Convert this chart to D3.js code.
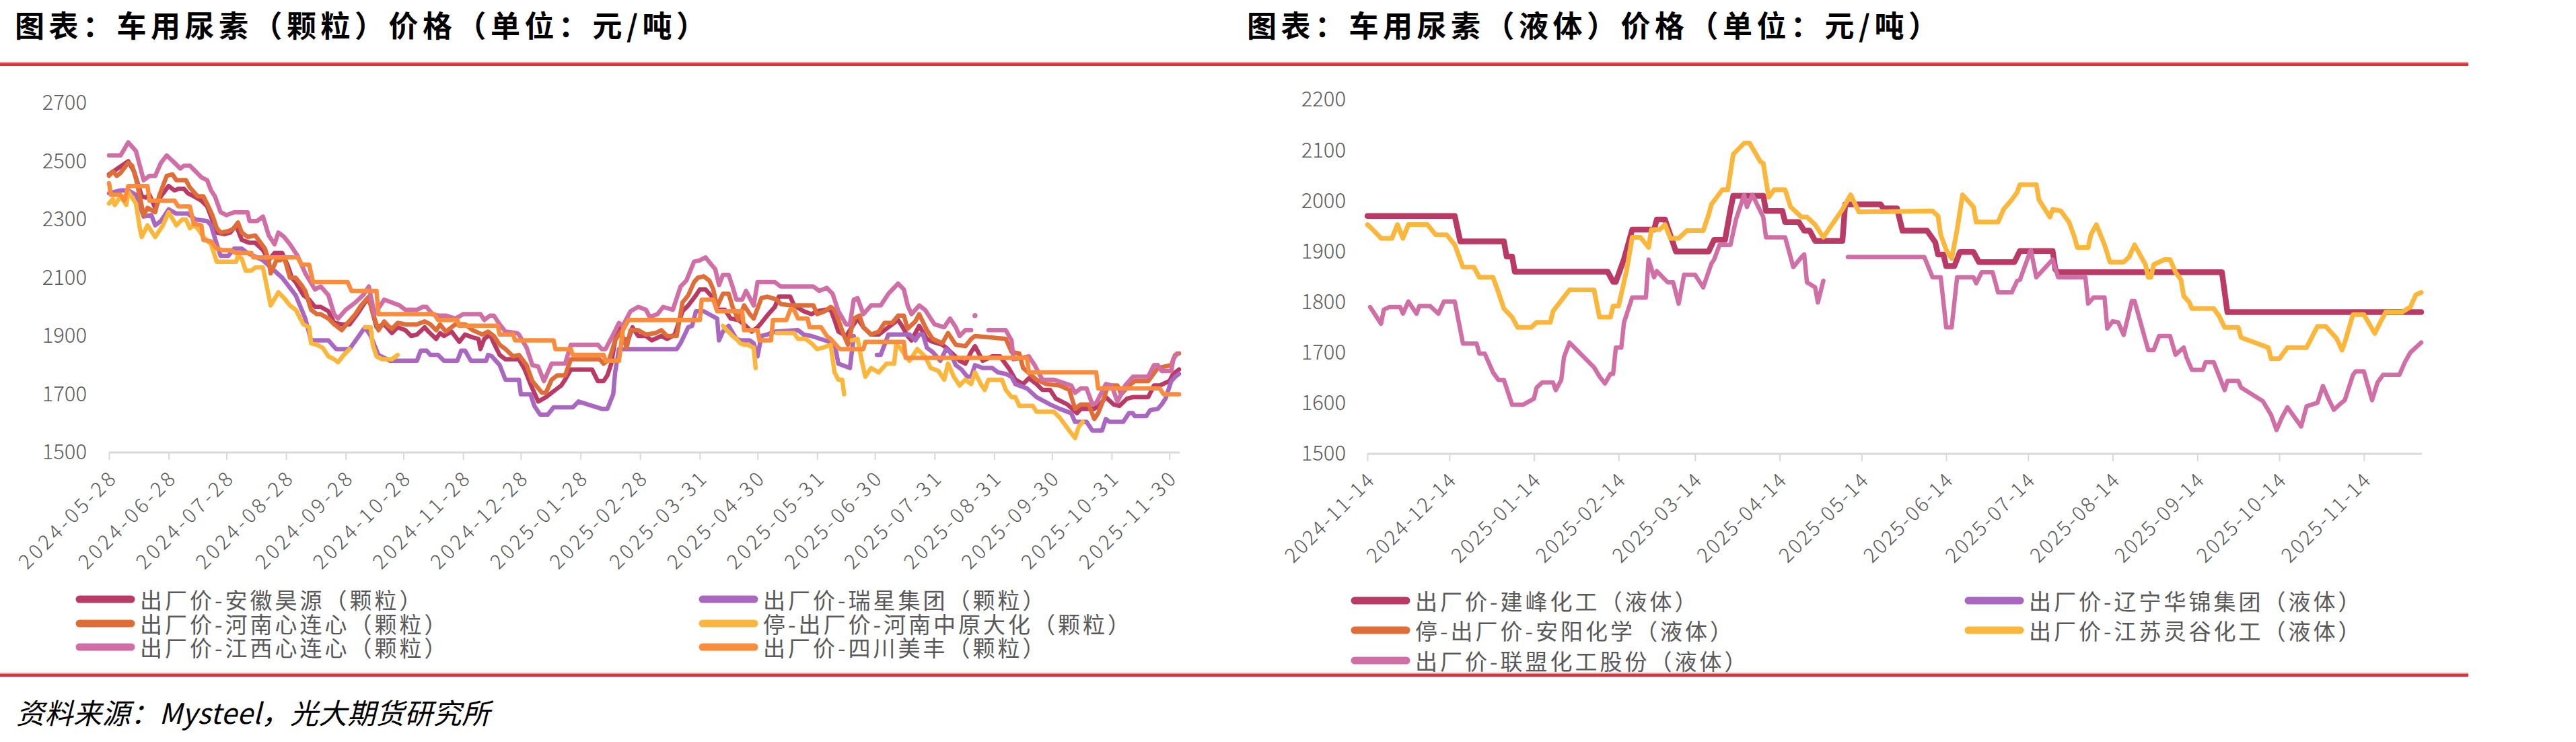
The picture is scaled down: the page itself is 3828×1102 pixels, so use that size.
<!DOCTYPE html>
<html>
<head>
<meta charset="utf-8">
<script src="https://d3js.org/d3.v7.min.js"></script>
<style>
  body { margin: 0; background: #fff; }
  text { font-family: "Noto Sans CJK SC", "Noto Sans", sans-serif; }
</style>
</head>
<body>
<div class="vis"></div>
<script>
  let width = 3828
  let height = 1102

  // ---------- left chart: 颗粒 ----------
  let leftTicks = ['2024-05-28', '2024-06-28', '2024-07-28', '2024-08-28', '2024-09-28', '2024-10-28',
    '2024-11-28', '2024-12-28', '2025-01-28', '2025-02-28', '2025-03-31', '2025-04-30', '2025-05-31',
    '2025-06-30', '2025-07-31', '2025-08-31', '2025-09-30', '2025-10-31', '2025-11-30']
  let leftYTicks = [1500, 1700, 1900, 2100, 2300, 2500, 2700]

  let anhuiHaoyuan = [['2024-05-28',2455],['2024-06-07',2500],['2024-06-10',2465],['2024-06-14',2380],['2024-06-16',2375],['2024-06-18',2385],['2024-06-21',2340],['2024-06-24',2380],['2024-06-28',2415],['2024-07-01',2400],['2024-07-03',2405],['2024-07-06',2405],['2024-07-08',2390],['2024-07-11',2380],['2024-07-15',2365],['2024-07-18',2345],['2024-07-20',2310],['2024-07-23',2255],['2024-07-27',2250],['2024-07-30',2255],['2024-08-02',2280],['2024-08-05',2230],['2024-08-09',2220],['2024-08-12',2220],['2024-08-16',2195],['2024-08-19',2160],['2024-08-22',2185],['2024-08-26',2185],['2024-08-29',2140],['2024-08-31',2100],['2024-09-02',2085],['2024-09-06',2040],['2024-09-09',2025],['2024-09-12',2000],['2024-09-15',2000],['2024-09-19',1985],['2024-09-22',1945],['2024-09-26',1940],['2024-09-30',1940],['2024-10-04',1975],['2024-10-08',2015],['2024-10-10',2030],['2024-10-14',1930],['2024-10-18',1940],['2024-10-22',1910],['2024-10-25',1930],['2024-10-29',1920],['2024-11-01',1900],['2024-11-04',1905],['2024-11-08',1930],['2024-11-10',1915],['2024-11-14',1890],['2024-11-16',1910],['2024-11-18',1900],['2024-11-22',1915],['2024-11-26',1880],['2024-11-29',1905],['2024-12-03',1895],['2024-12-06',1890],['2024-12-07',1855],['2024-12-09',1890],['2024-12-12',1905],['2024-12-14',1875],['2024-12-17',1835],['2024-12-20',1820],['2024-12-27',1820],['2024-12-30',1785],['2025-01-02',1735],['2025-01-06',1675],['2025-01-10',1690],['2025-01-15',1715],['2025-01-18',1730],['2025-01-20',1750],['2025-01-23',1785],['2025-02-03',1785],['2025-02-06',1745],['2025-02-09',1745],['2025-02-11',1765],['2025-02-13',1805],['2025-02-15',1885],['2025-02-17',1930],['2025-02-19',1885],['2025-02-22',1890],['2025-02-24',1930],['2025-02-27',1900],['2025-03-03',1900],['2025-03-06',1885],['2025-03-11',1900],['2025-03-14',1890],['2025-03-18',1905],['2025-03-22',1985],['2025-03-25',2005],['2025-03-29',2040],['2025-03-31',2060],['2025-04-03',2060],['2025-04-07',2030],['2025-04-09',1990],['2025-04-13',1990],['2025-04-16',1960],['2025-04-20',1955],['2025-04-23',1940],['2025-04-27',1915],['2025-04-30',1930],['2025-05-02',1945],['2025-05-05',1970],['2025-05-09',2000],['2025-05-11',2035],['2025-05-17',2035],['2025-05-19',2005],['2025-05-24',1985],['2025-05-28',1975],['2025-05-31',1985],['2025-06-04',1990],['2025-06-07',1990],['2025-06-09',1955],['2025-06-11',1915],['2025-06-15',1900],['2025-06-18',1930],['2025-06-21',1960],['2025-06-24',1930],['2025-06-28',1905],['2025-07-02',1905],['2025-07-07',1930],['2025-07-12',1955],['2025-07-14',1935],['2025-07-17',1900],['2025-07-19',1885],['2025-07-23',1935],['2025-07-27',1890],['2025-07-30',1880],['2025-08-04',1870],['2025-08-06',1860],['2025-08-10',1835],['2025-08-13',1815],['2025-08-16',1805],['2025-08-19',1845],['2025-08-21',1865],['2025-08-25',1815],['2025-08-30',1830],['2025-09-03',1830],['2025-09-08',1785],['2025-09-11',1750],['2025-09-15',1735],['2025-09-18',1755],['2025-09-22',1735],['2025-09-25',1715],['2025-09-29',1715],['2025-10-02',1685],['2025-10-08',1665],['2025-10-13',1635],['2025-10-15',1650],['2025-10-22',1650],['2025-10-25',1665],['2025-10-28',1690],['2025-11-01',1665],['2025-11-04',1660],['2025-11-08',1685],['2025-11-11',1690],['2025-11-19',1690],['2025-11-22',1730],['2025-11-25',1730],['2025-11-30',1745],['2025-12-02',1770],['2025-12-05',1785]]

  let ruixing = [['2024-05-28',2390],['2024-06-03',2400],['2024-06-07',2400],['2024-06-11',2385],['2024-06-15',2310],['2024-06-19',2315],['2024-06-21',2280],['2024-06-24',2295],['2024-06-28',2335],['2024-07-02',2320],['2024-07-08',2320],['2024-07-12',2300],['2024-07-18',2295],['2024-07-20',2280],['2024-07-23',2215],['2024-07-25',2175],['2024-07-29',2175],['2024-08-01',2200],['2024-08-05',2200],['2024-08-08',2185],['2024-08-16',2160],['2024-08-26',2100],['2024-09-02',2040],['2024-09-07',1960],['2024-09-10',1885],['2024-09-19',1885],['2024-09-23',1855],['2024-09-30',1855],['2024-10-08',1930],['2024-10-11',1900],['2024-10-15',1835],['2024-10-21',1815],['2024-11-04',1815],['2024-11-06',1850],['2024-11-09',1850],['2024-11-11',1835],['2024-11-15',1835],['2024-11-18',1815],['2024-11-25',1815],['2024-11-27',1850],['2024-11-29',1850],['2024-12-02',1815],['2024-12-10',1815],['2024-12-11',1835],['2024-12-13',1830],['2024-12-17',1800],['2024-12-20',1750],['2024-12-27',1750],['2024-12-28',1700],['2025-01-02',1700],['2025-01-04',1660],['2025-01-07',1630],['2025-01-11',1630],['2025-01-14',1655],['2025-01-24',1655],['2025-01-27',1675],['2025-02-08',1650],['2025-02-11',1650],['2025-02-14',1700],['2025-02-15',1775],['2025-02-17',1855],['2025-03-19',1855],['2025-03-21',1875],['2025-03-25',1930],['2025-03-27',1935],['2025-03-29',1985],['2025-04-02',1985],['2025-04-09',1960],['2025-04-10',1885],['2025-04-12',1915],['2025-04-15',1935],['2025-04-19',1890],['2025-04-21',1885],['2025-04-26',1885],['2025-04-28',1875],['2025-04-30',1830],['2025-05-02',1900],['2025-05-05',1905],['2025-05-09',1915],['2025-05-21',1920],['2025-05-24',1905],['2025-05-28',1900],['2025-06-04',1885],['2025-06-09',1875],['2025-06-11',1805],['2025-06-13',1800],['2025-06-17',1790],['2025-06-19',1900],['2025-06-20',null],['2025-06-30',null],['2025-07-01',1835],['2025-07-03',1835],['2025-07-07',1905],['2025-07-18',1905],['2025-07-21',1885],['2025-07-23',1905],['2025-07-25',1905],['2025-07-27',1860],['2025-07-30',1845],['2025-08-03',1815],['2025-08-06',1855],['2025-08-08',1845],['2025-08-11',1800],['2025-08-14',1785],['2025-08-17',1760],['2025-08-19',1760],['2025-08-21',1800],['2025-08-25',1790],['2025-08-30',1790],['2025-09-02',1775],['2025-09-06',1770],['2025-09-09',1760],['2025-09-11',1735],['2025-09-17',1720],['2025-09-22',1690],['2025-09-29',1665],['2025-10-04',1650],['2025-10-10',1635],['2025-10-12',1605],['2025-10-18',1605],['2025-10-21',1575],['2025-10-26',1575],['2025-10-28',1615],['2025-10-30',1605],['2025-11-06',1605],['2025-11-09',1635],['2025-11-11',1635],['2025-11-12',1625],['2025-11-18',1625],['2025-11-20',1645],['2025-11-24',1650],['2025-11-26',1665],['2025-11-28',1685],['2025-12-01',1745],['2025-12-03',1760],['2025-12-05',1770]]

  let henanXlx = [['2024-05-28',2450],['2024-05-30',2465],['2024-06-01',2450],['2024-06-03',2460],['2024-06-07',2495],['2024-06-09',2485],['2024-06-11',2440],['2024-06-15',2315],['2024-06-17',2340],['2024-06-21',2325],['2024-06-23',2380],['2024-06-27',2450],['2024-06-30',2455],['2024-07-02',2435],['2024-07-07',2435],['2024-07-09',2410],['2024-07-13',2380],['2024-07-16',2380],['2024-07-19',2340],['2024-07-21',2310],['2024-07-23',2270],['2024-07-25',2255],['2024-07-29',2260],['2024-08-01',2270],['2024-08-03',2290],['2024-08-05',2255],['2024-08-08',2240],['2024-08-12',2245],['2024-08-17',2200],['2024-08-19',2160],['2024-08-20',2115],['2024-08-23',2160],['2024-08-25',2160],['2024-08-27',2170],['2024-08-30',2100],['2024-09-02',2100],['2024-09-05',2075],['2024-09-07',2055],['2024-09-10',1990],['2024-09-13',1975],['2024-09-15',1975],['2024-09-19',1960],['2024-09-22',1940],['2024-09-26',1920],['2024-09-29',1945],['2024-10-03',1975],['2024-10-06',2005],['2024-10-10',2035],['2024-10-12',1980],['2024-10-15',1920],['2024-10-18',1950],['2024-10-20',1935],['2024-10-22',1925],['2024-10-25',1945],['2024-10-29',1940],['2024-11-04',1940],['2024-11-08',1950],['2024-11-11',1940],['2024-11-14',1920],['2024-11-16',1940],['2024-11-19',1915],['2024-11-22',1930],['2024-11-24',1940],['2024-11-29',1940],['2024-12-03',1920],['2024-12-08',1905],['2024-12-11',1915],['2024-12-14',1900],['2024-12-17',1870],['2024-12-20',1855],['2024-12-24',1830],['2024-12-27',1835],['2024-12-31',1800],['2025-01-03',1745],['2025-01-08',1705],['2025-01-10',1705],['2025-01-13',1750],['2025-01-16',1765],['2025-01-20',1765],['2025-01-23',1820],['2025-02-07',1820],['2025-02-09',1805],['2025-02-12',1820],['2025-02-15',1885],['2025-02-18',1915],['2025-02-21',1860],['2025-02-23',1920],['2025-02-27',1920],['2025-03-03',1905],['2025-03-08',1910],['2025-03-11',1920],['2025-03-14',1900],['2025-03-19',1900],['2025-03-22',2015],['2025-03-25',2040],['2025-03-28',2085],['2025-03-30',2100],['2025-04-02',2105],['2025-04-05',2090],['2025-04-07',2060],['2025-04-09',2000],['2025-04-12',2045],['2025-04-15',2045],['2025-04-17',2000],['2025-04-20',1955],['2025-04-23',2005],['2025-04-26',1975],['2025-04-28',1960],['2025-05-02',2030],['2025-05-05',2035],['2025-05-10',2025],['2025-05-12',2010],['2025-05-17',2005],['2025-05-29',2005],['2025-05-31',1975],['2025-06-04',1985],['2025-06-07',2000],['2025-06-09',1990],['2025-06-11',1955],['2025-06-14',1900],['2025-06-16',1870],['2025-06-19',1960],['2025-06-22',1970],['2025-06-24',1930],['2025-06-28',1905],['2025-07-02',1915],['2025-07-05',1945],['2025-07-09',1945],['2025-07-12',1970],['2025-07-15',1970],['2025-07-17',1925],['2025-07-21',1950],['2025-07-23',1975],['2025-07-27',1920],['2025-07-30',1890],['2025-08-04',1875],['2025-08-07',1910],['2025-08-11',1870],['2025-08-16',1865],['2025-08-19',1890],['2025-08-21',1900],['2025-09-06',1890],['2025-09-09',1845],['2025-09-13',1840],['2025-09-15',1790],['2025-09-22',1750],['2025-09-27',1735],['2025-10-04',1730],['2025-10-09',1715],['2025-10-12',1650],['2025-10-15',1665],['2025-10-19',1665],['2025-10-22',1615],['2025-10-24',1635],['2025-10-27',1685],['2025-10-29',1730],['2025-11-03',1730],['2025-11-05',1700],['2025-11-09',1730],['2025-11-12',1745],['2025-11-19',1745],['2025-11-24',1790],['2025-12-01',1800],['2025-12-03',1835],['2025-12-05',1840]]

  let henanZhongyuan = [['2024-05-28',2355],['2024-05-30',2370],['2024-05-31',2350],['2024-06-03',2380],['2024-06-06',2350],['2024-06-07',2395],['2024-06-11',2355],['2024-06-13',2270],['2024-06-14',2240],['2024-06-17',2280],['2024-06-21',2240],['2024-06-23',2260],['2024-06-25',2280],['2024-06-28',2325],['2024-07-02',2280],['2024-07-05',2300],['2024-07-07',2300],['2024-07-09',2270],['2024-07-11',2280],['2024-07-13',2270],['2024-07-16',2240],['2024-07-20',2215],['2024-07-23',2155],['2024-08-02',2155],['2024-08-03',2175],['2024-08-05',2165],['2024-08-07',2125],['2024-08-10',2125],['2024-08-12',2135],['2024-08-16',2135],['2024-08-20',2005],['2024-08-24',2050],['2024-08-27',2030],['2024-08-30',2005],['2024-09-02',1990],['2024-09-06',1940],['2024-09-09',1930],['2024-09-10',1875],['2024-09-13',1870],['2024-09-16',1860],['2024-09-19',1830],['2024-09-22',1820],['2024-09-24',1810],['2024-09-27',1835],['2024-09-30',1855],['2024-10-01',null],['2024-10-07',null],['2024-10-08',1930],['2024-10-11',1930],['2024-10-12',1870],['2024-10-14',1830],['2024-10-17',1820],['2024-10-22',1820],['2024-10-25',1835],['2024-10-26',null],['2025-04-11',null],['2025-04-12',1935],['2025-04-14',1920],['2025-04-17',1900],['2025-04-19',1890],['2025-04-21',1875],['2025-04-23',1870],['2025-04-25',1870],['2025-04-28',1860],['2025-04-29',1790],['2025-04-30',null],['2025-05-09',null],['2025-05-10',1910],['2025-05-19',1910],['2025-05-21',1890],['2025-05-25',1890],['2025-05-28',1875],['2025-05-31',1855],['2025-06-03',1860],['2025-06-07',1870],['2025-06-09',1775],['2025-06-11',1750],['2025-06-13',1750],['2025-06-14',1700],['2025-06-15',null],['2025-06-17',null],['2025-06-18',1885],['2025-06-21',1890],['2025-06-23',1820],['2025-06-25',1760],['2025-06-28',1790],['2025-07-02',1775],['2025-07-06',1805],['2025-07-10',1805],['2025-07-11',1870],['2025-07-13',1860],['2025-07-16',1830],['2025-07-18',1815],['2025-07-22',1855],['2025-07-26',1830],['2025-07-29',1790],['2025-08-02',1780],['2025-08-05',1750],['2025-08-07',1805],['2025-08-10',1760],['2025-08-13',1730],['2025-08-16',1750],['2025-08-19',1735],['2025-08-21',1775],['2025-08-24',1735],['2025-08-26',1715],['2025-08-28',1750],['2025-09-04',1750],['2025-09-06',1715],['2025-09-09',1690],['2025-09-11',1690],['2025-09-13',1660],['2025-09-20',1660],['2025-09-22',1640],['2025-10-01',1640],['2025-10-04',1620],['2025-10-09',1575],['2025-10-12',1550],['2025-10-14',1590],['2025-10-16',1605]]

  let jiangxiXlx = [['2024-05-28',2520],['2024-06-03',2520],['2024-06-07',2565],['2024-06-11',2535],['2024-06-15',2435],['2024-06-18',2450],['2024-06-21',2450],['2024-06-24',2495],['2024-06-27',2520],['2024-07-01',2495],['2024-07-04',2475],['2024-07-06',2485],['2024-07-09',2485],['2024-07-12',2465],['2024-07-15',2445],['2024-07-18',2435],['2024-07-20',2400],['2024-07-22',2380],['2024-07-25',2325],['2024-07-28',2315],['2024-08-01',2325],['2024-08-08',2325],['2024-08-09',2295],['2024-08-13',2295],['2024-08-16',2310],['2024-08-19',2245],['2024-08-22',2215],['2024-08-24',2255],['2024-08-27',2240],['2024-08-30',2215],['2024-09-03',2175],['2024-09-07',2115],['2024-09-12',2060],['2024-09-15',2070],['2024-09-19',2040],['2024-09-22',1975],['2024-09-24',1960],['2024-09-28',1990],['2024-10-03',2015],['2024-10-07',2040],['2024-10-10',2070],['2024-10-13',1975],['2024-10-18',2025],['2024-10-22',2015],['2024-10-26',2005],['2024-10-29',1990],['2024-11-04',1990],['2024-11-07',2000],['2024-11-09',2000],['2024-11-12',1975],['2024-11-15',1970],['2024-11-19',1970],['2024-11-24',1960],['2024-11-28',1975],['2024-12-07',1975],['2024-12-09',1955],['2024-12-12',1970],['2024-12-14',1970],['2024-12-17',1940],['2024-12-20',1915],['2024-12-26',1910],['2024-12-27',1905],['2024-12-31',1860],['2025-01-03',1800],['2025-01-06',1795],['2025-01-09',1745],['2025-01-13',1805],['2025-01-20',1805],['2025-01-23',1870],['2025-02-06',1870],['2025-02-08',1855],['2025-02-10',1855],['2025-02-14',1905],['2025-02-17',1945],['2025-02-19',1935],['2025-02-23',1985],['2025-02-27',2000],['2025-03-03',1990],['2025-03-05',1965],['2025-03-09',1975],['2025-03-12',2000],['2025-03-17',1990],['2025-03-21',2070],['2025-03-24',2090],['2025-03-28',2155],['2025-03-31',2160],['2025-04-03',2170],['2025-04-06',2145],['2025-04-08',2130],['2025-04-10',2075],['2025-04-12',2110],['2025-04-15',2110],['2025-04-17',2070],['2025-04-19',2025],['2025-04-22',2025],['2025-04-24',2055],['2025-04-28',2005],['2025-04-30',2085],['2025-05-09',2085],['2025-05-12',2070],['2025-05-29',2070],['2025-06-01',2055],['2025-06-05',2065],['2025-06-08',2045],['2025-06-11',1985],['2025-06-15',1940],['2025-06-17',1940],['2025-06-19',2025],['2025-06-21',2030],['2025-06-24',1975],['2025-06-28',2005],['2025-07-03',2005],['2025-07-07',2045],['2025-07-12',2080],['2025-07-15',2060],['2025-07-17',2005],['2025-07-19',1975],['2025-07-23',2005],['2025-07-26',1990],['2025-07-31',1940],['2025-08-05',1930],['2025-08-08',1960],['2025-08-11',1930],['2025-08-13',1900],['2025-08-16',1920],['2025-08-19',1920],['2025-08-20',null],['2025-08-21',1970],['2025-08-22',null],['2025-08-28',1920],['2025-09-06',1920],['2025-09-09',1885],['2025-09-10',1820],['2025-09-18',1830],['2025-09-21',1800],['2025-09-25',1750],['2025-10-01',1750],['2025-10-10',1730],['2025-10-12',1705],['2025-10-15',1720],['2025-10-18',1720],['2025-10-21',1665],['2025-10-23',1670],['2025-10-28',1735],['2025-10-31',1730],['2025-11-03',1675],['2025-11-05',1700],['2025-11-07',1730],['2025-11-11',1760],['2025-11-19',1760],['2025-11-22',1800],['2025-11-24',1800],['2025-11-26',1780],['2025-12-01',1780],['2025-12-02',1820],['2025-12-04',1840]]

  let sichuanMf = [['2024-05-28',2425],['2024-05-29',2385],['2024-06-03',2385],['2024-06-05',2365],['2024-06-07',2415],['2024-06-17',2415],['2024-06-18',2365],['2024-07-01',2365],['2024-07-03',2345],['2024-07-09',2345],['2024-07-11',2285],['2024-07-15',2280],['2024-07-16',2230],['2024-07-20',2225],['2024-07-23',2200],['2024-07-26',2195],['2024-07-30',2195],['2024-08-02',2185],['2024-08-10',2185],['2024-08-11',2170],['2024-09-03',2170],['2024-09-05',2145],['2024-09-09',2145],['2024-09-11',2085],['2024-09-29',2085],['2024-10-01',2055],['2024-10-14',2055],['2024-10-15',1975],['2024-11-13',1975],['2024-11-15',1955],['2024-11-25',1955],['2024-11-26',1935],['2024-12-16',1935],['2024-12-17',1905],['2024-12-24',1905],['2024-12-25',1885],['2025-01-14',1885],['2025-01-15',1855],['2025-01-23',1855],['2025-01-24',1835],['2025-02-09',1835],['2025-02-10',1815],['2025-02-17',1815],['2025-02-19',1920],['2025-02-22',1955],['2025-03-31',1955],['2025-04-01',2025],['2025-04-07',2025],['2025-04-09',1985],['2025-04-22',1985],['2025-04-23',1920],['2025-04-30',1920],['2025-05-01',1885],['2025-05-07',1885],['2025-05-08',1955],['2025-05-15',1955],['2025-05-17',1990],['2025-05-19',1990],['2025-05-21',1960],['2025-05-26',1960],['2025-05-27',1930],['2025-06-02',1930],['2025-06-05',1900],['2025-06-07',1890],['2025-06-11',1860],['2025-06-12',1855],['2025-06-24',1855],['2025-06-25',1880],['2025-07-15',1880],['2025-07-16',1825],['2025-09-17',1825],['2025-09-18',1775],['2025-10-23',1775],['2025-10-24',1720],['2025-11-25',1720],['2025-11-27',1700],['2025-12-05',1700]]

  // ---------- right chart: 液体 ----------
  let rightTicks = ['2024-11-14', '2024-12-14', '2025-01-14', '2025-02-14', '2025-03-14', '2025-04-14',
    '2025-05-14', '2025-06-14', '2025-07-14', '2025-08-14', '2025-09-14', '2025-10-14', '2025-11-14']
  let rightYTicks = [1500, 1600, 1700, 1800, 1900, 2000, 2100, 2200]

  let jianfeng = [['2024-11-14',1970],['2024-12-16',1970],['2024-12-18',1920],['2025-01-03',1920],['2025-01-04',1890],['2025-01-06',1890],['2025-01-07',1860],['2025-02-10',1860],['2025-02-12',1840],['2025-02-13',1840],['2025-02-16',1885],['2025-02-19',1943],['2025-02-27',1943],['2025-02-28',1963],['2025-03-03',1963],['2025-03-07',1900],['2025-03-19',1900],['2025-03-21',1923],['2025-03-25',1923],['2025-03-27',1983],['2025-03-28',2010],['2025-04-08',2010],['2025-04-09',1980],['2025-04-15',1980],['2025-04-16',1958],['2025-04-21',1958],['2025-04-23',1941],['2025-04-25',1941],['2025-04-27',1921],['2025-05-07',1921],['2025-05-08',1993],['2025-05-21',1993],['2025-05-22',1985],['2025-05-27',1985],['2025-05-29',1941],['2025-06-07',1941],['2025-06-10',1918],['2025-06-11',1894],['2025-06-13',1894],['2025-06-14',1871],['2025-06-17',1871],['2025-06-19',1899],['2025-06-24',1899],['2025-06-26',1879],['2025-07-09',1879],['2025-07-11',1901],['2025-07-23',1901],['2025-07-24',1864],['2025-07-25',1859],['2025-09-23',1859],['2025-09-25',1780],['2025-12-05',1780]]
  let liaoningHuajin = []
  let anyang = []
  let jiangsuLinggu = [['2024-11-14',1953],['2024-11-16',1943],['2024-11-19',1926],['2024-11-23',1926],['2024-11-25',1953],['2024-11-27',1926],['2024-11-29',1953],['2024-12-06',1953],['2024-12-09',1933],['2024-12-13',1933],['2024-12-16',1913],['2024-12-19',1869],['2024-12-23',1869],['2024-12-25',1849],['2024-12-30',1849],['2025-01-01',1819],['2025-01-03',1787],['2025-01-06',1770],['2025-01-08',1750],['2025-01-13',1750],['2025-01-15',1760],['2025-01-20',1760],['2025-01-21',1782],['2025-01-27',1824],['2025-02-05',1824],['2025-02-07',1770],['2025-02-11',1770],['2025-02-12',1792],['2025-02-14',1792],['2025-02-17',1864],['2025-02-19',1928],['2025-02-22',1928],['2025-02-25',1908],['2025-02-26',1943],['2025-03-01',1943],['2025-03-03',1953],['2025-03-05',1926],['2025-03-08',1926],['2025-03-11',1941],['2025-03-17',1941],['2025-03-19',1973],['2025-03-20',1993],['2025-03-24',2022],['2025-03-26',2022],['2025-03-28',2092],['2025-04-01',2114],['2025-04-03',2114],['2025-04-07',2077],['2025-04-08',2074],['2025-04-10',2007],['2025-04-12',2022],['2025-04-16',2022],['2025-04-18',1988],['2025-04-22',1968],['2025-04-24',1968],['2025-04-27',1953],['2025-04-30',1928],['2025-05-07',1983],['2025-05-10',2012],['2025-05-13',1978],['2025-06-09',1980],['2025-06-11',1970],['2025-06-12',1933],['2025-06-14',1903],['2025-06-16',1886],['2025-06-18',1943],['2025-06-20',2012],['2025-06-24',1988],['2025-06-25',1958],['2025-07-03',1958],['2025-07-05',1983],['2025-07-08',2002],['2025-07-10',2017],['2025-07-11',2032],['2025-07-17',2032],['2025-07-18',2002],['2025-07-22',1968],['2025-07-23',1983],['2025-07-26',1980],['2025-07-29',1958],['2025-07-31',1928],['2025-08-01',1908],['2025-08-05',1908],['2025-08-06',1933],['2025-08-08',1953],['2025-08-11',1913],['2025-08-13',1879],['2025-08-18',1879],['2025-08-20',1889],['2025-08-22',1913],['2025-08-26',1874],['2025-08-27',1849],['2025-08-28',1849],['2025-08-29',1874],['2025-09-02',1884],['2025-09-04',1884],['2025-09-06',1859],['2025-09-08',1844],['2025-09-09',1812],['2025-09-11',1800],['2025-09-12',1787],['2025-09-20',1787],['2025-09-22',1772],['2025-09-24',1750],['2025-09-29',1750],['2025-09-30',1730],['2025-10-10',1710],['2025-10-11',1688],['2025-10-14',1688],['2025-10-17',1710],['2025-10-24',1710],['2025-10-28',1752],['2025-10-31',1752],['2025-11-04',1728],['2025-11-06',1705],['2025-11-07',1720],['2025-11-10',1775],['2025-11-14',1775],['2025-11-18',1738],['2025-11-20',1760],['2025-11-22',1780],['2025-11-28',1780],['2025-12-01',1790],['2025-12-03',1814],['2025-12-05',1819]]
  let lianmeng = [['2024-11-15',1790],['2024-11-19',1757],['2024-11-20',1785],['2024-11-22',1790],['2024-11-26',1790],['2024-11-27',1777],['2024-11-29',1801],['2024-12-02',1777],['2024-12-03',1792],['2024-12-07',1792],['2024-12-10',1777],['2024-12-12',1801],['2024-12-16',1801],['2024-12-19',1718],['2024-12-24',1718],['2024-12-25',1698],['2024-12-27',1698],['2024-12-30',1661],['2025-01-01',1646],['2025-01-03',1646],['2025-01-06',1597],['2025-01-10',1597],['2025-01-14',1609],['2025-01-15',1631],['2025-01-17',1641],['2025-01-21',1641],['2025-01-22',1626],['2025-01-24',1646],['2025-01-25',1691],['2025-01-27',1720],['2025-02-05',1671],['2025-02-07',1653],['2025-02-09',1639],['2025-02-11',1658],['2025-02-12',1658],['2025-02-13',1710],['2025-02-15',1710],['2025-02-16',1760],['2025-02-19',1809],['2025-02-24',1809],['2025-02-25',1884],['2025-02-27',1849],['2025-02-28',1861],['2025-03-04',1839],['2025-03-06',1839],['2025-03-08',1797],['2025-03-10',1854],['2025-03-14',1854],['2025-03-17',1829],['2025-03-20',1876],['2025-03-21',1884],['2025-03-23',1913],['2025-03-27',1913],['2025-03-29',1963],['2025-04-01',2012],['2025-04-02',1988],['2025-04-04',2012],['2025-04-08',1968],['2025-04-09',1928],['2025-04-16',1928],['2025-04-19',1869],['2025-04-22',1889],['2025-04-23',1894],['2025-04-24',1839],['2025-04-27',1829],['2025-04-28',1799],['2025-04-30',1842],['2025-05-01',null],['2025-05-08',null],['2025-05-09',1889],['2025-06-06',1889],['2025-06-09',1849],['2025-06-12',1849],['2025-06-14',1750],['2025-06-16',1750],['2025-06-18',1849],['2025-06-24',1849],['2025-06-25',1837],['2025-06-27',1859],['2025-07-01',1859],['2025-07-03',1819],['2025-07-08',1819],['2025-07-10',1842],['2025-07-11',1844],['2025-07-15',1903],['2025-07-17',1849],['2025-07-23',1884],['2025-07-25',1849],['2025-08-04',1849],['2025-08-05',1797],['2025-08-07',1809],['2025-08-11',1809],['2025-08-12',1748],['2025-08-14',1762],['2025-08-16',1760],['2025-08-18',1735],['2025-08-21',1802],['2025-08-22',1802],['2025-08-27',1705],['2025-08-29',1705],['2025-08-31',1733],['2025-09-04',1733],['2025-09-06',1696],['2025-09-09',1710],['2025-09-10',1691],['2025-09-12',1666],['2025-09-16',1666],['2025-09-17',1681],['2025-09-20',1681],['2025-09-24',1626],['2025-09-25',1644],['2025-09-29',1644],['2025-09-30',1631],['2025-10-08',1604],['2025-10-11',1577],['2025-10-13',1547],['2025-10-15',1572],['2025-10-17',1592],['2025-10-22',1554],['2025-10-24',1594],['2025-10-28',1601],['2025-10-30',1634],['2025-11-01',1609],['2025-11-03',1587],['2025-11-05',1597],['2025-11-07',1606],['2025-11-10',1656],['2025-11-11',1663],['2025-11-14',1663],['2025-11-17',1606],['2025-11-19',1641],['2025-11-21',1656],['2025-11-27',1656],['2025-11-29',1681],['2025-12-01',1700],['2025-12-05',1720]]

  let colors = {
    crimson: '#b93b65', purple: '#aa67bf', orangeRed: '#df6d37',
    yellow: '#fab73b', pink: '#d06ea6', orange: '#fa8d3d'
  }

  let parse = d3.timeParse('%Y-%m-%d')
  let svg = d3.select('.vis').append('svg').attr('width', width).attr('height', height)

  // titles, rules, source
  svg.append('text').attr('x', 22).attr('y', 55)
    .style('font-size', '44px').style('font-weight', 'bold').style('letter-spacing', '6.5px').attr('fill', '#000')
    .text('图表：车用尿素（颗粒）价格（单位：元/吨）')
  svg.append('text').attr('x', 1853).attr('y', 55)
    .style('font-size', '44px').style('font-weight', 'bold').style('letter-spacing', '6.5px').attr('fill', '#000')
    .text('图表：车用尿素（液体）价格（单位：元/吨）')

  for (let ry of [95, 1002]) {
    svg.append('line').attr('x1', 0).attr('x2', 3668).attr('y1', ry - 2).attr('y2', ry - 2)
      .attr('stroke', '#e99a9d').attr('stroke-width', 2)
    svg.append('line').attr('x1', 0).attr('x2', 3668).attr('y1', ry + 1).attr('y2', ry + 1)
      .attr('stroke', '#d7343c').attr('stroke-width', 4)
  }

  svg.append('text').attr('x', 24).attr('y', 1075)
    .style('font-size', '42px').style('font-style', 'italic').style('letter-spacing', '0.5px').attr('fill', '#000')
    .text('资料来源：Mysteel，光大期货研究所')

  function drawChart(cfg) {
    let x = d3.scaleTime().domain(cfg.xDomain.map(parse)).range(cfg.xRange)
    let y = d3.scaleLinear().domain(cfg.yDomain).range(cfg.yRange)

    // y labels
    svg.append('g')
      .attr('transform', `translate(${cfg.yLabelX},0)`)
      .call(d3.axisLeft(y).tickValues(cfg.yTicks).tickSize(0).tickPadding(0).tickFormat(d3.format('d')))
      .call((g) => g.select('.domain').remove())
      .call((g) => g.selectAll('text')
        .attr('fill', '#595959').style('font-size', '31px').style('font-weight', 300)
        .attr('font-family', null))

    // x axis
    svg.append('g')
      .attr('transform', `translate(0,${cfg.yRange[0]})`)
      .call(d3.axisBottom(x).tickValues(cfg.xTicks.map(parse)).tickSize(11).tickSizeOuter(0)
        .tickFormat(d3.timeFormat('%Y-%m-%d')))
      .call((g) => g.select('.domain').attr('stroke', '#d9d9d9').attr('stroke-width', 3)
        .attr('d', `M${cfg.xRange[0]},0H${cfg.xRange[1] + 1}`))
      .call((g) => g.selectAll('.tick line').attr('stroke', '#d9d9d9').attr('stroke-width', 2))
      .call((g) => g.selectAll('.tick text')
        .attr('y', 0).attr('dy', 0)
        .attr('transform', 'translate(11,42) rotate(-45)')
        .attr('text-anchor', 'end')
        .attr('fill', '#595959')
        .attr('font-family', null)
        .style('font-size', '30px').style('font-weight', 300)
        .attr('textLength', cfg.labelLength).attr('lengthAdjust', 'spacing'))

    // series
    let line = d3.line()
      .defined((d) => d[1] != null)
      .x((d) => x(parse(d[0])))
      .y((d) => y(d[1]))

    for (let s of cfg.series) {
      if (!s.data.length) continue
      svg.append('path')
        .datum(s.data)
        .attr('d', line)
        .attr('fill', 'none')
        .attr('stroke', s.color)
        .attr('stroke-width', s.width)
        .attr('stroke-linejoin', 'round')
        .attr('stroke-linecap', 'round')
      // lone points between gaps
      let lone = s.data.filter((d, i) => d[1] != null &&
        (i === 0 || s.data[i - 1][1] == null) && (i === s.data.length - 1 || s.data[i + 1][1] == null))
      svg.append('g').selectAll('circle').data(lone).join('circle')
        .attr('cx', (d) => x(parse(d[0])))
        .attr('cy', (d) => y(d[1]))
        .attr('r', s.width / 2 + 0.5)
        .attr('fill', s.color)
    }

    // legend
    cfg.series.forEach((s, i) => {
      let col = i % 2
      let row = Math.floor(i / 2)
      let lx = cfg.legendX[col]
      let ly = cfg.legendY[row]
      svg.append('line')
        .attr('x1', lx + 5).attr('x2', lx + 82).attr('y1', ly).attr('y2', ly)
        .attr('stroke', s.color).attr('stroke-width', 11).attr('stroke-linecap', 'round')
      svg.append('text')
        .attr('x', lx + 95).attr('y', ly)
        .attr('dominant-baseline', 'central')
        .attr('fill', '#595959')
        .style('font-size', '33px').style('letter-spacing', '4px')
        .text(s.name)
    })
  }

  drawChart({
    xDomain: ['2024-05-28', '2025-12-05'], xRange: [162, 1752],
    yDomain: [1500, 2700], yRange: [672, 153],
    yTicks: leftYTicks, xTicks: leftTicks, yLabelX: 129, labelLength: 188,
    legendX: [113, 1039], legendY: [890, 926, 961],
    series: [
      { name: '出厂价-安徽昊源（颗粒）', data: anhuiHaoyuan, color: colors.crimson, width: 6.5 },
      { name: '出厂价-瑞星集团（颗粒）', data: ruixing, color: colors.purple, width: 6.5 },
      { name: '出厂价-河南心连心（颗粒）', data: henanXlx, color: colors.orangeRed, width: 6.5 },
      { name: '停-出厂价-河南中原大化（颗粒）', data: henanZhongyuan, color: colors.yellow, width: 6.5 },
      { name: '出厂价-江西心连心（颗粒）', data: jiangxiXlx, color: colors.pink, width: 6.5 },
      { name: '出厂价-四川美丰（颗粒）', data: sichuanMf, color: colors.orange, width: 6.5 }
    ]
  })

  drawChart({
    xDomain: ['2024-11-14', '2025-12-05'], xRange: [2032, 3598],
    yDomain: [1500, 2200], yRange: [674, 148],
    yTicks: rightYTicks, xTicks: rightTicks, yLabelX: 2000, labelLength: 172,
    legendX: [2008, 2920], legendY: [892, 936, 981],
    series: [
      { name: '出厂价-建峰化工（液体）', data: jianfeng, color: colors.crimson, width: 8.5 },
      { name: '出厂价-辽宁华锦集团（液体）', data: liaoningHuajin, color: colors.purple, width: 7 },
      { name: '停-出厂价-安阳化学（液体）', data: anyang, color: colors.orangeRed, width: 7 },
      { name: '出厂价-江苏灵谷化工（液体）', data: jiangsuLinggu, color: colors.yellow, width: 7 },
      { name: '出厂价-联盟化工股份（液体）', data: lianmeng, color: colors.pink, width: 6.5 }
    ]
  })
</script>
</body>
</html>
